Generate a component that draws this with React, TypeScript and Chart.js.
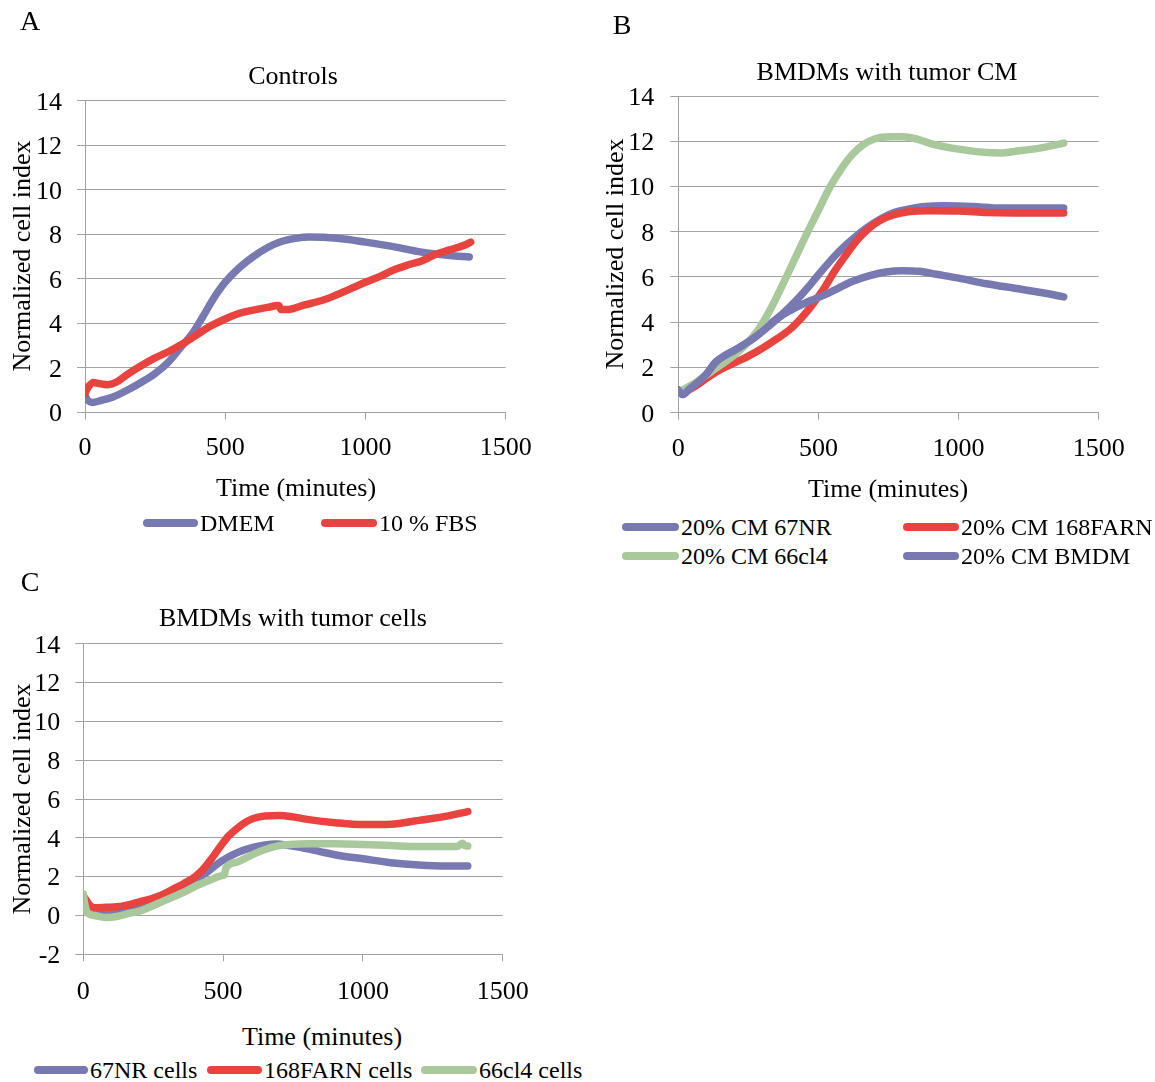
import React, { useEffect, useRef } from "react";
import { Chart, registerables } from "chart.js";

Chart.register(...registerables);

const FONT = "'Liberation Serif', 'Times New Roman', Times, serif";
const BLUE = "#7779B0";
const RED = "#E8433E";
const GREEN = "#A9C89B";
const GRID = "#A3A3A3";

// ---------- Panel A: Controls ----------
const dmemTime = [0, 10, 25, 60, 100, 150, 200, 250, 300, 340, 380, 420, 460, 500, 550, 600, 650, 700, 750, 800, 900, 1000, 1100, 1200, 1300, 1370];
const dmemValue = [0.75, 0.55, 0.45, 0.55, 0.7, 1.0, 1.35, 1.75, 2.3, 2.9, 3.5, 4.3, 5.15, 5.85, 6.5, 7.0, 7.4, 7.68, 7.82, 7.88, 7.82, 7.65, 7.45, 7.2, 7.05, 6.98];
const fbsTime = [0, 5, 15, 30, 50, 80, 110, 150, 200, 250, 300, 350, 400, 450, 500, 550, 600, 650, 690, 700, 720, 780, 850, 900, 1000, 1050, 1100, 1150, 1200, 1250, 1300, 1350, 1375];
const fbsValue = [0.85, 1.0, 1.2, 1.35, 1.3, 1.25, 1.35, 1.7, 2.1, 2.45, 2.75, 3.1, 3.5, 3.9, 4.2, 4.45, 4.6, 4.72, 4.8, 4.62, 4.62, 4.82, 5.05, 5.3, 5.85, 6.1, 6.4, 6.62, 6.8, 7.1, 7.3, 7.5, 7.65];

// ---------- Panel B: BMDMs with tumor CM ----------
const cm67Time = [0, 15, 40, 70, 100, 135, 170, 200, 240, 280, 320, 370, 420, 460, 500, 560, 620, 670, 720, 770, 820, 870, 950, 1050, 1150, 1250, 1375];
const cm67Value = [1.0, 0.8, 1.05, 1.35, 1.7, 2.25, 2.55, 2.75, 3.05, 3.4, 3.85, 4.35, 4.95, 5.5, 6.1, 6.95, 7.65, 8.15, 8.55, 8.85, 9.0, 9.1, 9.15, 9.12, 9.05, 9.05, 9.05];
const cm168Time = [0, 20, 70, 110, 150, 200, 250, 300, 350, 400, 440, 480, 520, 560, 600, 640, 680, 720, 770, 820, 900, 1000, 1100, 1200, 1375];
const cm168Value = [0.95, 0.95, 1.25, 1.6, 1.9, 2.2, 2.5, 2.85, 3.25, 3.7, 4.2, 4.8, 5.5, 6.3, 7.0, 7.65, 8.15, 8.5, 8.75, 8.88, 8.93, 8.92, 8.85, 8.83, 8.83];
const cm66Time = [0, 30, 70, 110, 150, 200, 240, 290, 330, 370, 410, 450, 500, 540, 580, 620, 660, 700, 760, 800, 850, 900, 1000, 1100, 1150, 1200, 1300, 1375];
const cm66Value = [0.9, 1.1, 1.4, 1.75, 2.1, 2.55, 3.0, 3.75, 4.6, 5.6, 6.65, 7.7, 8.95, 9.95, 10.75, 11.4, 11.85, 12.1, 12.2, 12.2, 12.1, 11.9, 11.65, 11.5, 11.48, 11.55, 11.72, 11.92];
const cmBmdmTime = [0, 15, 40, 70, 100, 135, 170, 200, 240, 280, 320, 370, 420, 470, 520, 570, 620, 680, 740, 800, 860, 920, 1000, 1100, 1200, 1300, 1375];
const cmBmdmValue = [1.0, 0.8, 1.05, 1.35, 1.7, 2.25, 2.55, 2.75, 3.05, 3.4, 3.8, 4.3, 4.65, 4.95, 5.2, 5.5, 5.8, 6.05, 6.22, 6.28, 6.25, 6.12, 5.95, 5.7, 5.5, 5.3, 5.12];

// ---------- Panel C: BMDMs with tumor cells ----------
const c67Time = [0, 10, 20, 35, 60, 85, 120, 160, 200, 240, 280, 320, 360, 400, 440, 470, 500, 530, 570, 610, 650, 690, 730, 780, 850, 920, 1000, 1100, 1200, 1300, 1375];
const c67Value = [1.0, 0.7, 0.45, 0.3, 0.22, 0.2, 0.28, 0.4, 0.55, 0.82, 1.05, 1.3, 1.55, 1.85, 2.2, 2.55, 2.85, 3.1, 3.35, 3.52, 3.63, 3.68, 3.62, 3.5, 3.28, 3.08, 2.92, 2.72, 2.6, 2.55, 2.55];
const c168Time = [0, 10, 25, 40, 80, 120, 160, 200, 240, 280, 320, 360, 400, 430, 460, 490, 520, 560, 600, 650, 700, 750, 800, 900, 1000, 1100, 1200, 1300, 1375];
const c168Value = [1.0, 0.8, 0.5, 0.4, 0.42, 0.45, 0.55, 0.7, 0.85, 1.05, 1.35, 1.65, 2.0, 2.4, 2.95, 3.55, 4.1, 4.6, 4.95, 5.12, 5.15, 5.08, 4.95, 4.78, 4.68, 4.7, 4.9, 5.12, 5.35];
const c66Time = [0, 5, 15, 40, 80, 120, 160, 200, 240, 280, 320, 360, 400, 450, 495, 505, 510, 550, 600, 650, 700, 750, 800, 900, 1000, 1100, 1200, 1300, 1340, 1355, 1365, 1375];
const c66Value = [1.1, 0.6, 0.15, 0.0, -0.1, -0.05, 0.1, 0.22, 0.45, 0.7, 0.95, 1.2, 1.5, 1.8, 2.05, 2.1, 2.45, 2.75, 3.1, 3.4, 3.6, 3.67, 3.7, 3.7, 3.66, 3.6, 3.55, 3.55, 3.57, 3.72, 3.6, 3.58];

type Series = { label: string; t: number[]; v: number[]; color: string };

const seriesA: Series[] = [
  { label: "DMEM", t: dmemTime, v: dmemValue, color: BLUE },
  { label: "10 % FBS", t: fbsTime, v: fbsValue, color: RED },
];
const seriesB: Series[] = [
  { label: "20% CM 67NR", t: cm67Time, v: cm67Value, color: BLUE },
  { label: "20% CM 168FARN", t: cm168Time, v: cm168Value, color: RED },
  { label: "20% CM 66cl4", t: cm66Time, v: cm66Value, color: GREEN },
  { label: "20% CM BMDM", t: cmBmdmTime, v: cmBmdmValue, color: BLUE },
];
const seriesC: Series[] = [
  { label: "67NR cells", t: c67Time, v: c67Value, color: BLUE },
  { label: "168FARN cells", t: c168Time, v: c168Value, color: RED },
  { label: "66cl4 cells", t: c66Time, v: c66Value, color: GREEN },
];

type Area = { left: number; top: number; right: number; bottom: number };

function PlotPanel(props: {
  left: number; top: number; width: number; height: number; area: Area;
  yMin: number; series: Series[]; xPad: number; yPad: number;
}) {
  const ref = useRef<HTMLCanvasElement | null>(null);
  useEffect(() => {
    const canvas = ref.current;
    if (!canvas) return;
    const { width, height, area, yMin, series, xPad, yPad } = props;
    const n = series.length;
    const chart = new Chart(canvas, {
      type: "line",
      data: {
        datasets: series.map((s, i) => ({
          label: s.label,
          data: s.t.map((t, j) => ({ x: t, y: s.v[j] })),
          borderColor: s.color,
          backgroundColor: s.color,
          borderWidth: 7.5,
          pointRadius: 0,
          pointHoverRadius: 0,
          tension: 0.4,
          cubicInterpolationMode: "monotone",
          borderCapStyle: "round",
          borderJoinStyle: "round",
          fill: false,
          order: n - i,
        })),
      },
      options: {
        animation: false,
        responsive: false,
        maintainAspectRatio: false,
        events: [],
        layout: { padding: { left: 0, top: area.top, right: width - area.right, bottom: 0 } },
        plugins: { legend: { display: false }, title: { display: false }, tooltip: { enabled: false } },
        scales: {
          x: {
            type: "linear",
            min: 0,
            max: 1500,
            ticks: {
              stepSize: 500, color: "#000", font: { family: FONT, size: 26 }, padding: xPad, maxRotation: 0,
              callback: (v: any) => String(v),
            },
            grid: { drawOnChartArea: false, drawTicks: true, tickLength: 7, color: GRID, lineWidth: 1 },
            border: { display: true, color: GRID, width: 1 },
            afterFit: (s: any) => { s.height = height - area.bottom; },
          },
          y: {
            type: "linear",
            min: yMin,
            max: 14,
            ticks: {
              stepSize: 2, color: "#000", font: { family: FONT, size: 26 }, padding: yPad, labelOffset: 2,
              callback: (v: any) => String(v),
            },
            grid: { drawOnChartArea: true, drawTicks: true, tickLength: 8, color: GRID, lineWidth: 1 },
            border: { display: true, color: GRID, width: 1 },
            afterFit: (s: any) => { s.width = area.left; },
          },
        },
      },
    } as any);
    return () => chart.destroy();
  }, []);
  return (
    <canvas
      ref={ref}
      width={props.width}
      height={props.height}
      style={{ position: "absolute", left: props.left, top: props.top, width: props.width, height: props.height }}
    />
  );
}

function Txt(props: { x: number; y: number; size: number; text: string; rotate?: boolean }) {
  return (
    <div
      style={{
        position: "absolute",
        left: props.x,
        top: props.y,
        transform: `translate(-50%, -50%)${props.rotate ? " rotate(-90deg)" : ""}`,
        fontFamily: FONT,
        fontSize: props.size,
        lineHeight: 1,
        whiteSpace: "nowrap",
        color: "#000",
      }}
    >
      {props.text}
    </div>
  );
}

function LegendItem(props: { x1: number; x2: number; y: number; s: Series }) {
  return (
    <>
      <div
        style={{
          position: "absolute",
          left: props.x1,
          top: props.y - 4,
          width: props.x2 - props.x1,
          height: 8,
          borderRadius: 4,
          background: props.s.color,
        }}
      />
      <div
        style={{
          position: "absolute",
          left: props.x2 + 2,
          top: props.y,
          transform: "translateY(-50%)",
          fontFamily: FONT,
          fontSize: 24,
          lineHeight: 1,
          whiteSpace: "nowrap",
          color: "#000",
        }}
      >
        {props.s.label}
      </div>
    </>
  );
}

export default function App() {
  return (
    <div style={{ position: "absolute", left: 0, top: 0, width: 1155, height: 1082, background: "#fff", overflow: "hidden" }}>
      <PlotPanel left={0} top={0} width={560} height={480} area={{ left: 85, top: 100.7, right: 505.7, bottom: 412.5 }} yMin={0} series={seriesA} xPad={13} yPad={15} />
      <PlotPanel left={590} top={0} width={565} height={480} area={{ left: 88.3, top: 96, right: 508.7, bottom: 412.7 }} yMin={0} series={seriesB} xPad={14} yPad={16} />
      <PlotPanel left={0} top={540} width={560} height={480} area={{ left: 83.3, top: 103.7, right: 502.7, bottom: 414.3 }} yMin={-2} series={seriesC} xPad={15} yPad={15} />

      <Txt x={30} y={21} size={28} text="A" />
      <Txt x={622} y={25} size={28} text="B" />
      <Txt x={30} y={582} size={28} text="C" />

      <Txt x={293} y={76} size={26} text="Controls" />
      <Txt x={887} y={72} size={26} text="BMDMs with tumor CM" />
      <Txt x={293} y={618} size={26} text="BMDMs with tumor cells" />

      <Txt x={296} y={488} size={26} text="Time (minutes)" />
      <Txt x={888} y={489} size={26} text="Time (minutes)" />
      <Txt x={322} y={1037} size={26} text="Time (minutes)" />

      <Txt x={22} y={256} size={26} text="Normalized cell index" rotate />
      <Txt x={615} y={254} size={26} text="Normalized cell index" rotate />
      <Txt x={22} y={799} size={26} text="Normalized cell index" rotate />

      <LegendItem x1={143} x2={198} y={523} s={seriesA[0]} />
      <LegendItem x1={321} x2={377} y={523} s={seriesA[1]} />

      <LegendItem x1={622} x2={679} y={527} s={seriesB[0]} />
      <LegendItem x1={903} x2={959} y={527} s={seriesB[1]} />
      <LegendItem x1={622} x2={679} y={556} s={seriesB[2]} />
      <LegendItem x1={903} x2={959} y={556} s={seriesB[3]} />

      <LegendItem x1={34} x2={88} y={1070} s={seriesC[0]} />
      <LegendItem x1={207} x2={262} y={1070} s={seriesC[1]} />
      <LegendItem x1={421} x2={477} y={1070} s={seriesC[2]} />
    </div>
  );
}
